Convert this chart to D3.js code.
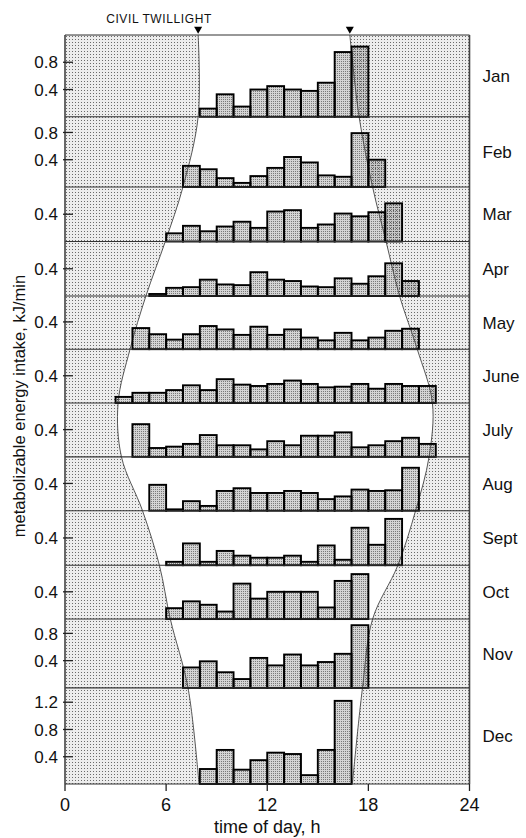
<!DOCTYPE html>
<html>
<head>
<meta charset="utf-8">
<script src="https://cdn.jsdelivr.net/npm/d3@7"></script>
<style>
body { margin: 0; background: #fff; }
text { font-family: "Liberation Sans", Arial, sans-serif; fill: #111; }
</style>
</head>
<body>
<div id="chart"></div>
<script>
/*
Feeding activity by hour, one panel per month, with civil twilight curves
*/

// ---- data ----
var months = ["Jan", "Feb", "Mar", "Apr", "May", "June", "July", "Aug", "Sept", "Oct", "Nov", "Dec"];
var firstHour = [8, 7, 6, 5, 4, 3, 4, 5, 6, 6, 7, 8];

var janIntake  = [0.12, 0.33, 0.15, 0.40, 0.45, 0.40, 0.38, 0.50, 0.95, 1.03];
var febIntake  = [0.31, 0.26, 0.13, 0.06, 0.16, 0.28, 0.44, 0.36, 0.17, 0.15, 0.79, 0.40];
var marIntake  = [0.12, 0.23, 0.15, 0.22, 0.29, 0.20, 0.44, 0.46, 0.20, 0.25, 0.41, 0.37, 0.43, 0.56];
var aprIntake  = [0.03, 0.12, 0.13, 0.24, 0.17, 0.16, 0.35, 0.24, 0.22, 0.14, 0.13, 0.26, 0.18, 0.29, 0.48, 0.22];
var mayIntake  = [0.31, 0.22, 0.14, 0.22, 0.34, 0.29, 0.21, 0.33, 0.21, 0.29, 0.17, 0.13, 0.24, 0.13, 0.17, 0.27, 0.30];
var junIntake  = [0.09, 0.15, 0.15, 0.19, 0.26, 0.19, 0.35, 0.27, 0.25, 0.28, 0.33, 0.28, 0.23, 0.24, 0.28, 0.21, 0.28, 0.25, 0.25];
var julIntake  = [0.48, 0.13, 0.15, 0.19, 0.32, 0.17, 0.17, 0.11, 0.23, 0.17, 0.31, 0.31, 0.36, 0.14, 0.17, 0.23, 0.28, 0.19];
var augIntake  = [0.38, 0.02, 0.14, 0.07, 0.29, 0.33, 0.26, 0.26, 0.29, 0.26, 0.17, 0.21, 0.31, 0.29, 0.30, 0.63];
var sepIntake  = [0.05, 0.32, 0.05, 0.21, 0.14, 0.11, 0.11, 0.14, 0.05, 0.29, 0.08, 0.55, 0.30, 0.68];
var octIntake  = [0.16, 0.26, 0.21, 0.11, 0.52, 0.30, 0.40, 0.40, 0.40, 0.17, 0.56, 0.66];
var novIntake  = [0.30, 0.39, 0.23, 0.13, 0.44, 0.33, 0.49, 0.33, 0.38, 0.50, 0.92];
var decIntake  = [0.22, 0.50, 0.21, 0.35, 0.46, 0.44, 0.13, 0.50, 1.22];

var intake = [janIntake, febIntake, marIntake, aprIntake, mayIntake, junIntake,
              julIntake, augIntake, sepIntake, octIntake, novIntake, decIntake];

// y domain top of each panel (kJ/min) and its tick values
var panelMax = [1.2, 1.03, 0.8, 0.8, 0.78, 0.79, 0.79, 0.79, 0.8, 0.79, 1.01, 1.41];
var panelTicks = [[0.4, 0.8], [0.4, 0.8], [0.4], [0.4], [0.4], [0.4], [0.4], [0.4], [0.4], [0.4], [0.4, 0.8], [0.4, 0.8, 1.2]];

// civil twilight (hour) at the panel edges, top of Jan to bottom of Dec
var dawnHour = [7.9, 7.9, 7.0, 5.95, 4.8, 3.86, 3.15, 3.35, 4.6, 5.6, 6.25, 7.3, 7.95];
var duskHour = [16.9, 17.45, 18.25, 19.05, 19.85, 20.9, 21.8, 21.6, 20.8, 19.75, 18.25, 17.65, 17.05];

var hourTicks = [0, 6, 12, 18, 24];

// ---- layout ----
var svgWidth = 526,
    svgHeight = 838;

var margin = {left: 65, right: 56.5, top: 35, bottom: 54};
var width = svgWidth - margin.left - margin.right,
    height = svgHeight - margin.top - margin.bottom;

var svg = d3.select("#chart")
    .append("svg")
        .attr("width", svgWidth)
        .attr("height", svgHeight);

var defs = svg.append("defs");

// light stipple for night
var nightPat = defs.append("pattern")
    .attr("id", "night")
    .attr("patternUnits", "userSpaceOnUse")
    .attr("width", 3).attr("height", 3);
nightPat.append("rect").attr("width", 3).attr("height", 3).attr("fill", "rgba(0,0,0,0.07)");
nightPat.append("rect").attr("x", 1).attr("y", 1).attr("width", 1).attr("height", 1).attr("fill", "rgba(0,0,0,0.55)");

// denser stipple for bars
var barPat = defs.append("pattern")
    .attr("id", "barfill")
    .attr("patternUnits", "userSpaceOnUse")
    .attr("width", 2).attr("height", 2);
barPat.append("rect").attr("width", 2).attr("height", 2).attr("fill", "#d4d4d4");
barPat.append("rect").attr("width", 1).attr("height", 1).attr("fill", "#7a7a7a");

var g = svg.append("g")
    .attr("transform", `translate(${margin.left}, ${margin.top})`);

var x = d3.scaleLinear()
    .domain([0, 24])
    .range([0, width]);

// cumulative stacking of the panels
var edges = [0];
panelMax.forEach((m, i) => edges.push(edges[i] + m));

var yAll = d3.scaleLinear()
    .domain([0, edges[edges.length - 1]])
    .range([0, height]);

var panelScales = panelMax.map((m, i) => d3.scaleLinear()
    .domain([0, m])
    .range([yAll(edges[i + 1]), yAll(edges[i])]));

var barsData = [];
intake.forEach((vals, i) => {
    vals.forEach((v, k) => barsData.push({month: i, hour: firstHour[i] + k, value: v}));
});

// bar fills
g.append("g").selectAll("rect")
    .data(barsData)
    .enter()
    .append("rect")
        .attr("x", d => x(d.hour))
        .attr("y", d => panelScales[d.month](d.value))
        .attr("width", d => x(d.hour + 1) - x(d.hour))
        .attr("height", d => panelScales[d.month](0) - panelScales[d.month](d.value))
        .attr("fill", "url(#barfill)");

// night shading
var dawnPts = dawnHour.map((h, i) => ({h: h, y: yAll(edges[i])}));
var duskPts = duskHour.map((h, i) => ({h: h, y: yAll(edges[i])}));

var nightLeft = d3.area()
    .curve(d3.curveCatmullRom)
    .y(d => d.y)
    .x0(x(0))
    .x1(d => x(d.h));

var nightRight = d3.area()
    .curve(d3.curveCatmullRom)
    .y(d => d.y)
    .x0(d => x(d.h))
    .x1(x(24));

g.append("path").attr("d", nightLeft(dawnPts)).attr("fill", "url(#night)");
g.append("path").attr("d", nightRight(duskPts)).attr("fill", "url(#night)");

// twilight lines
var twLine = d3.line()
    .curve(d3.curveCatmullRom)
    .x(d => x(d.h))
    .y(d => d.y);

[dawnPts, duskPts].forEach(pts => {
    g.append("path")
        .attr("d", twLine(pts))
        .attr("fill", "none")
        .attr("stroke", "#444")
        .attr("stroke-width", 0.9);
});

// bar outlines
g.append("g").selectAll("rect")
    .data(barsData)
    .enter()
    .append("rect")
        .attr("x", d => x(d.hour))
        .attr("y", d => panelScales[d.month](d.value))
        .attr("width", d => x(d.hour + 1) - x(d.hour))
        .attr("height", d => panelScales[d.month](0) - panelScales[d.month](d.value))
        .attr("fill", "none")
        .attr("stroke", "#000")
        .attr("stroke-width", 1.9);

// panel separators
g.append("g").selectAll("line")
    .data(edges)
    .enter()
    .append("line")
        .attr("x1", 0)
        .attr("x2", width)
        .attr("y1", d => yAll(d))
        .attr("y2", d => yAll(d))
        .attr("stroke", "#333")
        .attr("stroke-width", 1.1);

// frame sides
[0, width].forEach(xx => {
    g.append("line")
        .attr("x1", xx).attr("x2", xx)
        .attr("y1", 0).attr("y2", height)
        .attr("stroke", "#444")
        .attr("stroke-width", 1.6);
});

// y ticks and month labels
panelScales.forEach((ys, i) => {
    var pg = g.append("g");
    panelTicks[i].forEach(t => {
        pg.append("line")
            .attr("x1", -2).attr("x2", 8)
            .attr("y1", ys(t)).attr("y2", ys(t))
            .attr("stroke", "#222")
            .attr("stroke-width", 1.3);
        pg.append("text")
            .attr("x", -7)
            .attr("y", ys(t))
            .attr("dy", "0.36em")
            .attr("text-anchor", "end")
            .attr("font-size", "17px")
            .text(t.toFixed(1));
    });
    pg.append("text")
        .attr("x", width + 13)
        .attr("y", (ys(0) + ys(panelMax[i])) / 2)
        .attr("dy", "0.36em")
        .attr("font-size", "17px")
        .text(months[i]);
});

// x axis
var xAxisGroup = g.append("g")
    .attr("transform", `translate(0, ${height})`);
hourTicks.forEach(h => {
    xAxisGroup.append("line")
        .attr("x1", x(h)).attr("x2", x(h))
        .attr("y1", 0).attr("y2", 7)
        .attr("stroke", "#222")
        .attr("stroke-width", 1.3);
    xAxisGroup.append("text")
        .attr("x", x(h))
        .attr("y", 27)
        .attr("text-anchor", "middle")
        .attr("font-size", "18px")
        .text(h);
});

g.append("text")
    .attr("x", width / 2)
    .attr("y", height + 49)
    .attr("text-anchor", "middle")
    .attr("font-size", "18px")
    .text("time of day, h");

g.append("text")
    .attr("transform", "rotate(-90)")
    .attr("x", -(yAll(edges[6]) + 3))
    .attr("y", -40)
    .attr("text-anchor", "middle")
    .attr("font-size", "16.5px")
    .text("metabolizable energy intake,  kJ/min");

// civil twilight markers
g.append("text")
    .attr("x", x(dawnHour[0]) - 92)
    .attr("y", -12)
    .attr("font-size", "12px")
    .attr("letter-spacing", "0.6px")
    .text("CIVIL TWILLIGHT");

[dawnHour[0], duskHour[0]].forEach(h => {
    g.append("path")
        .attr("d", d3.symbol(d3.symbolTriangle, 28)())
        .attr("transform", `translate(${x(h)}, -6) rotate(180)`)
        .attr("fill", "#000");
});
</script>
</body>
</html>
